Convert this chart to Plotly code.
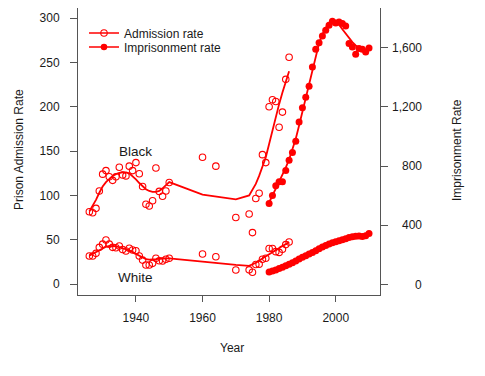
import plotly.graph_objects as go

# ---------------- data ----------------
adm_years = [1926, 1927, 1928, 1929, 1930, 1931, 1932, 1933, 1934, 1935, 1936, 1937, 1938,
             1939, 1940, 1941, 1942, 1943, 1944, 1945, 1946, 1947, 1948, 1949, 1950,
             1960, 1964, 1970, 1974, 1975, 1976, 1977, 1978, 1979, 1980, 1981, 1982,
             1983, 1984, 1985, 1986]
black_adm = [81.6, 80.5, 85.4, 105, 124, 128, 121, 117, 121, 131.7, 123, 122, 133,
             128, 137, 124.5, 110, 90, 88, 94, 131, 104.5, 99, 105, 114.5,
             143, 133, 75, 79, 58, 96.5, 102.5, 146, 137, 200, 208, 206,
             177, 194, 231, 256]
white_adm = [31.6, 31.6, 34.6, 41.4, 45, 49.7, 45, 41.4, 41, 42.9, 39, 37.2, 40.3,
             38.4, 37.6, 31.6, 27, 21.4, 21.4, 23.3, 29, 26.3, 26, 27.9, 29,
             33.9, 30.8, 15.8, 16, 13.3, 22, 22.4, 27.9, 29, 40, 40, 36.5,
             35.7, 39.3, 44.5, 47.4]
black_adm_smooth = [82, 88, 95, 103, 110, 115, 119, 122, 124, 125.5, 126, 126, 125,
                    122, 118, 114, 110, 107, 105, 104, 104, 105, 108, 112, 115,
                    101, 98.5, 95.5, 100, 106, 113, 122, 132, 143, 158, 174, 189,
                    203, 216, 228, 240]
white_adm_smooth = [32, 34, 36, 38.5, 40.5, 42, 43, 43, 42.5, 41.5, 40.5, 39.5, 38,
                    36, 34, 31.5, 29.5, 28, 27.5, 27.5, 28, 28.5, 29, 29, 29,
                    25, 23.5, 21.5, 20.5, 22, 24, 26.5, 29, 31.5, 34, 36.5, 38.5,
                    40.5, 43, 45, 47.5]

imp_years = list(range(1980, 2011))
black_imp = [549, 603, 668, 695, 695, 771, 841, 893, 969, 1099, 1194, 1266, 1340, 1470,
             1589, 1634, 1679, 1717, 1751, 1778, 1767, 1773, 1763, 1747, 1628, 1605,
             1556, 1594, 1589, 1571, 1598]
black_imp_smooth = [555, 600, 648, 695, 740, 790, 845, 910, 985, 1075, 1170, 1265, 1360,
                    1460, 1555, 1630, 1690, 1735, 1765, 1778, 1775, 1755, 1725, 1695,
                    1665, 1638, 1615, 1600, 1590, 1586, 1588]
white_imp = [85, 92, 100, 110, 118, 128, 138, 148, 160, 173, 185, 196, 207, 218, 230,
             243, 255, 265, 275, 283, 290, 296, 303, 310, 318, 323, 327, 328, 326, 330,
             345]

x_ticks = [1940, 1960, 1980, 2000]
left_ticks = [0, 50, 100, 150, 200, 250, 300]
right_ticks = [0, 400, 800, 1200, 1600]
right_tick_labels = ["0", "400", "800", "1,200", "1,600"]

RED = "#FF0000"
FONT = "Liberation Sans"
TXT = "#1a1a1a"
LINEC = "#555555"

# page body has an 8px default margin; plot box on screen: x 78..380, y 8..295
L, R, T, B = 78, 380, 8, 295
def px(sx):
    return (sx - L) / (R - L)
def py(sy):
    return (B - sy) / (B - T)

fig = go.Figure()

# admission rate: smooth lines + open circles
for ys in (black_adm_smooth, white_adm_smooth):
    fig.add_trace(go.Scatter(x=adm_years, y=ys, mode="lines",
                             line=dict(color=RED, width=1.8), showlegend=False, hoverinfo="skip"))
for ys in (black_adm, white_adm):
    fig.add_trace(go.Scatter(x=adm_years, y=ys, mode="markers",
                             marker=dict(symbol="circle-open", size=6.5, color=RED,
                                         line=dict(width=1.1, color=RED)),
                             showlegend=False))

# imprisonment rate on right axis
fig.add_trace(go.Scatter(x=imp_years, y=black_imp_smooth, mode="lines", yaxis="y2",
                         line=dict(color=RED, width=1.8), showlegend=False, hoverinfo="skip"))
fig.add_trace(go.Scatter(x=imp_years, y=black_imp, mode="markers", yaxis="y2",
                         marker=dict(symbol="circle", size=7, color=RED), showlegend=False))
fig.add_trace(go.Scatter(x=imp_years, y=white_imp, mode="lines+markers", yaxis="y2",
                         line=dict(color=RED, width=1.8),
                         marker=dict(symbol="circle", size=7, color=RED), showlegend=False))

# legend entries (two legends so rows can sit close together)
fig.add_trace(go.Scatter(x=[None], y=[None], mode="lines+markers", name="Admission rate",
                         legend="legend",
                         line=dict(color=RED, width=1.3),
                         marker=dict(symbol="circle-open", size=6.5, color=RED, line=dict(width=1.1))))
fig.add_trace(go.Scatter(x=[None], y=[None], mode="lines+markers", name="Imprisonment rate",
                         legend="legend2",
                         line=dict(color=RED, width=1.3),
                         marker=dict(symbol="circle", size=6.5, color=RED)))

annotations = [
    dict(text="Black", x=1940, y=149, xref="x", yref="y", showarrow=False,
         font=dict(family=FONT, size=13.5, color=TXT)),
    dict(text="White", x=1940, y=7.5, xref="x", yref="y", showarrow=False,
         font=dict(family=FONT, size=13.5, color=TXT)),
    dict(text="Year", x=px(232), y=py(348), xref="paper", yref="paper",
         xanchor="center", yanchor="middle",
         showarrow=False, font=dict(family=FONT, size=12, color=TXT)),
    dict(text="Prison Admission Rate", x=px(19), y=py(150), xref="paper", yref="paper",
         xanchor="center", yanchor="middle",
         showarrow=False, textangle=-90, font=dict(family=FONT, size=12, color=TXT)),
    dict(text="Imprisonment Rate", x=px(457), y=py(150), xref="paper", yref="paper",
         xanchor="center", yanchor="middle",
         showarrow=False, textangle=-90, font=dict(family=FONT, size=12, color=TXT)),
]
for v, lab in zip(right_ticks, right_tick_labels):
    annotations.append(dict(text=lab, x=px(424), y=v, xref="paper", yref="y2",
                            xanchor="right", yanchor="middle", showarrow=False,
                            font=dict(family=FONT, size=12, color=TXT)))

legend_common = dict(xanchor="left", yanchor="middle", bgcolor="rgba(0,0,0,0)",
                     font=dict(family=FONT, size=12, color=TXT), itemwidth=30)

fig.update_layout(
    width=477, height=368,
    margin=dict(l=70, r=105, t=0, b=81),
    paper_bgcolor="white", plot_bgcolor="white",
    font=dict(family=FONT, size=12, color=TXT),
    xaxis=dict(range=[1922.6, 2013.3], tickvals=x_ticks, ticks="outside", ticklen=6,
               tickcolor=LINEC, showline=True, linecolor=LINEC, linewidth=1, mirror=True,
               showgrid=False, zeroline=False, tickfont=dict(size=12, color=TXT),
               ticklabelstandoff=6),
    yaxis=dict(range=[-12.4, 311.5], tickvals=left_ticks, ticks="outside", ticklen=7,
               tickcolor=LINEC, showline=True, linecolor=LINEC, linewidth=1, mirror=True,
               showgrid=False, zeroline=False, tickfont=dict(size=12, color=TXT),
               ticklabelstandoff=8),
    yaxis2=dict(range=[-69.5, 1868], overlaying="y", side="right", tickvals=right_ticks,
                ticks="outside", ticklen=7, tickcolor=LINEC, showticklabels=False,
                showline=False, showgrid=False, zeroline=False),
    legend=dict(x=px(84), y=py(33), **legend_common),
    legend2=dict(x=px(84), y=py(47), **legend_common),
    annotations=annotations,
    showlegend=True,
)

fig.write_html("out.html")
